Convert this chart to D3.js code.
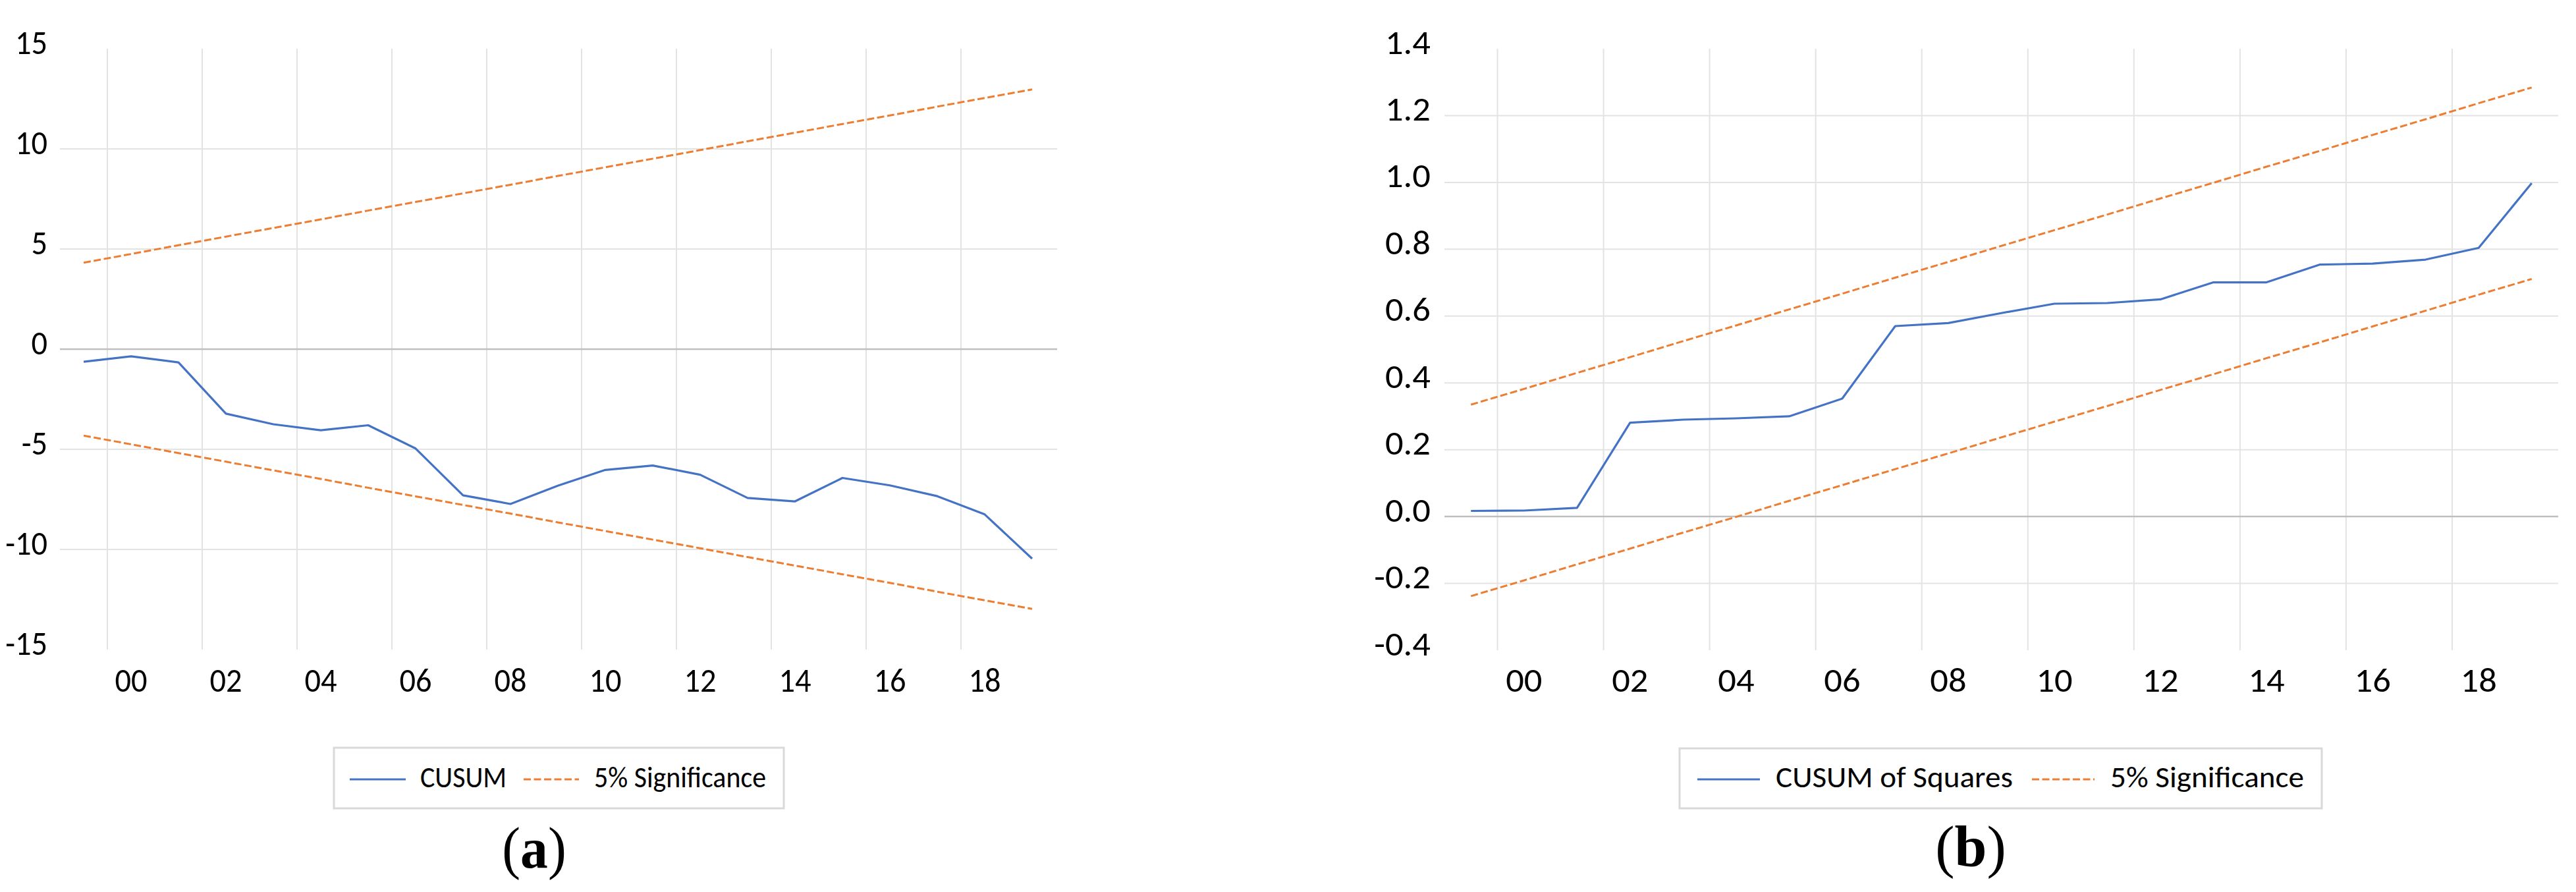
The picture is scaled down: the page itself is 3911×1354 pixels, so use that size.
<!DOCTYPE html>
<html>
<head>
<meta charset="utf-8">
<script src="https://cdn.jsdelivr.net/npm/d3@7"></script>
<style>
html, body { margin: 0; padding: 0; background: #ffffff; }
svg { display: block; }
</style>
</head>
<body>
<svg id="chart" width="3911" height="1354"></svg>
<script>
// ---------------- DATA ----------------
const years = [1999, 2000, 2001, 2002, 2003, 2004, 2005, 2006, 2007, 2008, 2009,
               2010, 2011, 2012, 2013, 2014, 2015, 2016, 2017, 2018, 2019];
const xTickYears = [2000, 2002, 2004, 2006, 2008, 2010, 2012, 2014, 2016, 2018];
const xTickLabels = ["00", "02", "04", "06", "08", "10", "12", "14", "16", "18"];

// Panel (a): CUSUM
const cusumValues = [-0.63, -0.36, -0.66, -3.22, -3.75, -4.05, -3.80, -4.96, -7.30, -7.73, -6.82,
                     -6.03, -5.81, -6.27, -7.43, -7.60, -6.43, -6.80, -7.34, -8.25, -10.46];
const cusumUpper = [4.32, 4.75, 5.19, 5.62, 6.05, 6.48, 6.92, 7.35, 7.78, 8.21, 8.65,
                    9.08, 9.51, 9.94, 10.38, 10.81, 11.24, 11.67, 12.11, 12.54, 12.97];
const cusumLower = [-4.32, -4.75, -5.19, -5.62, -6.05, -6.48, -6.92, -7.35, -7.78, -8.21, -8.65,
                    -9.08, -9.51, -9.94, -10.38, -10.81, -11.24, -11.67, -12.11, -12.54, -12.97];
const cusumTicks = [-15, -10, -5, 0, 5, 10, 15];
const cusumTickLabels = ["-15", "-10", "-5", "0", "5", "10", "15"];

// Panel (b): CUSUM of Squares
const cusumSqValues = [0.017, 0.018, 0.026, 0.281, 0.290, 0.294, 0.300, 0.353, 0.570, 0.579, 0.609,
                       0.637, 0.639, 0.650, 0.701, 0.701, 0.754, 0.757, 0.769, 0.804, 0.998];
const cusumSqUpper = [0.335, 0.382, 0.430, 0.477, 0.525, 0.572, 0.620, 0.667, 0.715, 0.762, 0.810,
                      0.857, 0.904, 0.952, 0.999, 1.047, 1.094, 1.142, 1.189, 1.237, 1.284];
const cusumSqLower = [-0.238, -0.191, -0.143, -0.096, -0.048, -0.001, 0.047, 0.094, 0.142, 0.189, 0.237,
                      0.284, 0.331, 0.379, 0.426, 0.474, 0.521, 0.569, 0.616, 0.664, 0.711];
const cusumSqTicks = [-0.4, -0.2, 0, 0.2, 0.4, 0.6, 0.8, 1.0, 1.2, 1.4];
const cusumSqTickLabels = ["-0.4", "-0.2", "0.0", "0.2", "0.4", "0.6", "0.8", "1.0", "1.2", "1.4"];

const legendA = ["CUSUM", "5% Significance"];
const legendB = ["CUSUM of Squares", "5% Significance"];

// ---------------- STYLE ----------------
const BLUE = "#4472C4";
const ORANGE = "#ED7D31";
const GRID = "#E3E3E3";
const ZERO = "#BFBFBF";
const SANS = "Carlito, Calibri, Lato, 'Open Sans', sans-serif";
const SERIF = "'Liberation Serif', 'Times New Roman', serif";

const svg = d3.select("#chart");

function measure(text, size, family, weight) {
  const t = svg.append("text")
    .attr("font-family", family).attr("font-size", size).attr("font-weight", weight || "normal")
    .text(text);
  const w = t.node().getComputedTextLength();
  t.remove();
  return w;
}

function drawPanel(cfg) {
  const g = svg.append("g");
  const x = d3.scaleBand().domain(years).range([cfg.x0, cfg.x1]).padding(0);
  const y = d3.scaleLinear().domain(cfg.domain).range([cfg.yBottom, cfg.yTop]);
  const k = cfg.legendTarget / measure("5% Significance", 45, SANS);

  // vertical gridlines (at category boundaries, every 2nd)
  g.append("g").selectAll("line").data(xTickYears).join("line")
    .attr("x1", d => x(d)).attr("x2", d => x(d))
    .attr("y1", cfg.yTop).attr("y2", cfg.yBottom)
    .attr("stroke", GRID).attr("stroke-width", 2);

  // horizontal gridlines (not at axis min / max)
  const inner = cfg.ticks.slice(1, -1);
  g.append("g").selectAll("line").data(inner).join("line")
    .attr("x1", cfg.x0).attr("x2", cfg.gridRight)
    .attr("y1", d => y(d)).attr("y2", d => y(d))
    .attr("stroke", d => d === 0 ? ZERO : GRID)
    .attr("stroke-width", d => d === 0 ? 2.5 : 2);

  // y axis labels
  const yAxis = d3.axisLeft(y).tickValues(cfg.ticks)
    .tickFormat((d, i) => cfg.tickLabels[i]).tickSize(0);
  const ya = g.append("g").attr("transform", `translate(${cfg.x0},0)`).call(yAxis);
  ya.select(".domain").remove();
  ya.selectAll("text")
    .attr("x", null).attr("dy", null).attr("y", null)
    .attr("transform", `translate(${-cfg.yLabelGap},7) scale(${k},1)`)
    .attr("font-family", SANS).attr("font-size", 52).attr("fill", "#000")
    .attr("text-anchor", "end");

  // x axis labels
  const xAxis = d3.axisBottom(x).tickValues(xTickYears)
    .tickFormat((d, i) => xTickLabels[i]).tickSize(0);
  const xa = g.append("g").attr("transform", `translate(0,${cfg.yBottom})`).call(xAxis);
  xa.select(".domain").remove();
  xa.selectAll("text")
    .attr("y", null).attr("dy", null)
    .attr("transform", `translate(0,${1050 - cfg.yBottom}) scale(${k},1)`)
    .attr("font-family", SANS).attr("font-size", 52).attr("fill", "#000")
    .attr("text-anchor", "middle");

  // lines
  const line = d3.line().x((d, i) => x(years[i]) + x.bandwidth() / 2).y(d => y(d));
  [cfg.upper, cfg.lower].forEach(s => {
    g.append("path").datum(s).attr("d", line)
      .attr("fill", "none").attr("stroke", ORANGE).attr("stroke-width", 3)
      .attr("stroke-dasharray", "11,4.5");
  });
  g.append("path").datum(cfg.values).attr("d", line)
    .attr("fill", "none").attr("stroke", BLUE).attr("stroke-width", 3.2)
    .attr("stroke-linejoin", "round");

  // legend
  const L = cfg.legend;
  g.append("rect").attr("x", L.box[0]).attr("y", L.box[1])
    .attr("width", L.box[2]).attr("height", L.box[3])
    .attr("fill", "none").attr("stroke", "#D9D9D9").attr("stroke-width", 3);
  g.append("line").attr("x1", L.s1[0]).attr("x2", L.s1[1]).attr("y1", 1183).attr("y2", 1183)
    .attr("stroke", BLUE).attr("stroke-width", 3);
  g.append("line").attr("x1", L.s2[0]).attr("x2", L.s2[1]).attr("y1", 1183).attr("y2", 1183)
    .attr("stroke", ORANGE).attr("stroke-width", 3).attr("stroke-dasharray", "11,4.5");
  [[cfg.legendLabels[0], L.t1], [cfg.legendLabels[1], L.t2]].forEach(([txt, tx]) => {
    g.append("text").attr("transform", `translate(${tx},1195) scale(${k},1)`)
      .attr("font-family", SANS).attr("font-size", 45).attr("fill", "#000").text(txt);
  });

  // caption
  const c = g.append("text")
    .attr("transform", `translate(${cfg.caption.x},${cfg.caption.y}) scale(${cfg.caption.k},1)`)
    .attr("font-family", SERIF).attr("font-size", 88).attr("fill", "#000")
    .attr("text-anchor", "middle");
  c.append("tspan").text("(");
  c.append("tspan").attr("font-weight", "bold").text(cfg.caption.letter);
  c.append("tspan").text(")");
}

drawPanel({
  x0: 91, x1: 1603, gridRight: 1605, yTop: 74, yBottom: 986,
  domain: [-15, 15], ticks: cusumTicks, tickLabels: cusumTickLabels, yLabelGap: 19,
  values: cusumValues, upper: cusumUpper, lower: cusumLower,
  legendTarget: 261, legendLabels: legendA,
  legend: { box: [507, 1135, 683, 92], s1: [531, 616], t1: 638, s2: [795, 879], t2: 902 },
  caption: { x: 811, y: 1317, k: 0.95, letter: "a" }
});

drawPanel({
  x0: 2193, x1: 3884, gridRight: 3884, yTop: 74, yBottom: 987,
  domain: [-0.4, 1.4], ticks: cusumSqTicks, tickLabels: cusumSqTickLabels, yLabelGap: 21,
  values: cusumSqValues, upper: cusumSqUpper, lower: cusumSqLower,
  legendTarget: 294, legendLabels: legendB,
  legend: { box: [2550, 1136, 975, 91], s1: [2577, 2672], t1: 2696, s2: [3085, 3180], t2: 3204 },
  caption: { x: 2992, y: 1315, k: 1.0, letter: "b" }
});
</script>
</body>
</html>
